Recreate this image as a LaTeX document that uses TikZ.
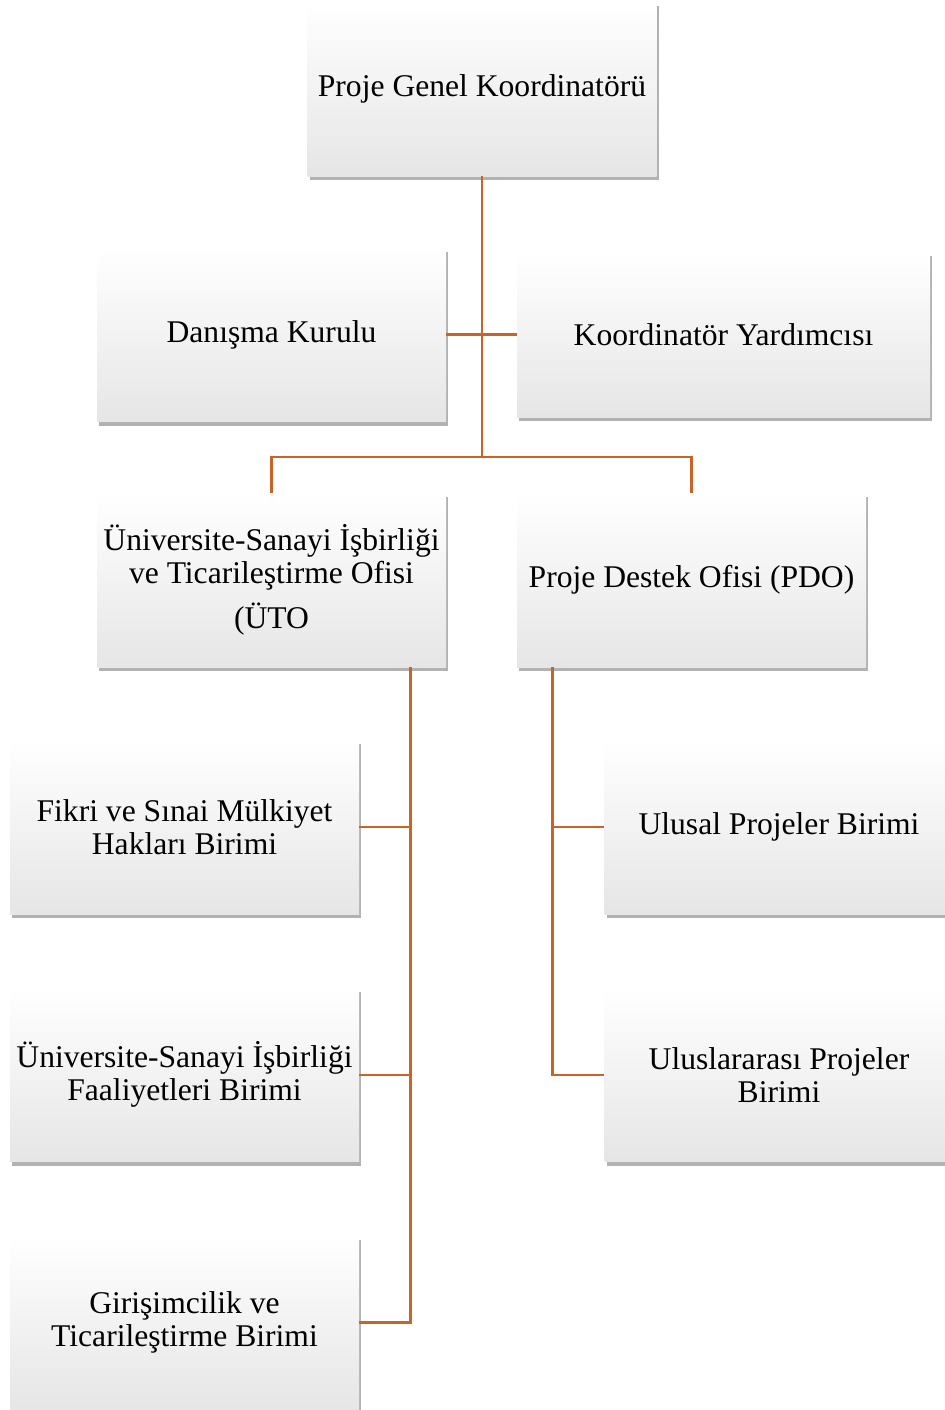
\documentclass[tikz,border=0pt]{standalone}
\usepackage{fontspec}
\setmainfont{Liberation Serif}
\usepackage{tikz}
\usetikzlibrary{positioning, shadows, calc}
\definecolor{orgline}{RGB}{200, 100, 40}

\begin{document}
\begin{tikzpicture}[
    x=0.5pt, y=-0.5pt,
    box/.style={rectangle, top color=white, middle color=white, bottom color=gray!20,
        minimum width=174.5pt, minimum height=87pt, inner sep=2pt, align=center,
        font=\fontsize{15.8}{16.5}\selectfont,
        drop shadow={shadow xshift=1pt, shadow yshift=-2pt, opacity=0.3, fill=black}},
    link/.style={draw=orgline, line width=1.3pt}
]
    \useasboundingbox (0,0) rectangle (944,1410);
    \node[box] (pgk) at (482,89) {Proje Genel Koordinatörü};
    \node[box] (danisma) at (271.5,334.5) {Danışma Kurulu};
    \node[box, minimum width=206.5pt, minimum height=82.5pt] (yardimci) at (723.5,334.5) {Koordinatör Yardımcısı};
    \coordinate (bus) at (482,457);
    \node[box] (uto) at (271.5,580) {Üniversite-Sanayi İşbirliği\\ve Ticarileştirme Ofisi\\[6pt](ÜTO};
    \node[box] (pdo) at (691.5,580) {Proje Destek Ofisi (PDO)};
    \node[box] (fikri) at (184.5,827) {Fikri ve Sınai Mülkiyet\\Hakları Birimi};
    \node[box, below=36.5pt of fikri] (usif) {Üniversite-Sanayi İşbirliği\\Faaliyetleri Birimi};
    \node[box, below=36.5pt of usif] (girisim) {Girişimcilik ve\\Ticarileştirme Birimi};
    \node[box] (ulusal) at (779,827) {Ulusal Projeler Birimi};
    \node[box, below=36.5pt of ulusal] (uluslar) {Uluslararası Projeler\\Birimi};

    \draw[link] (pgk) -- (bus);
    \draw[link] (danisma) -- (yardimci);
    \draw[link] (uto) |- (bus) -| (pdo);
    \draw[link] ([xshift=-18pt]uto.south east) |- (fikri);
    \draw[link] ([xshift=-18pt]uto.south east) |- (usif);
    \draw[link] ([xshift=-18pt]uto.south east) |- (girisim);
    \draw[link] ([xshift=18pt]pdo.south west) |- (ulusal);
    \draw[link] ([xshift=18pt]pdo.south west) |- (uluslar);
\end{tikzpicture}
\end{document}
